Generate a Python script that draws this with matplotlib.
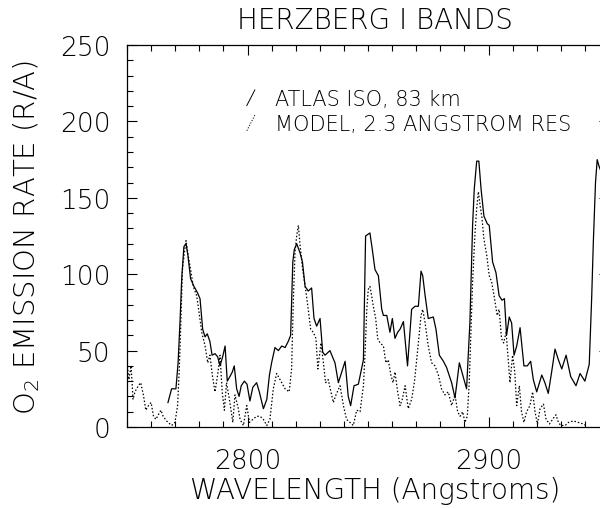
import matplotlib
matplotlib.use("Agg")
from matplotlib import pyplot as plt
from matplotlib.legend_handler import HandlerBase
from matplotlib.lines import Line2D
from matplotlib.ticker import MultipleLocator

# ATLAS ISO spectrum, 83 km (solid)
atlas_wl = [
    2767.0, 2768.5, 2770.3, 2771.2, 2772.0, 2772.7, 2773.6, 2774.5, 2775.3, 2776.4,
    2777.8, 2779.2, 2780.3, 2781.4, 2782.4, 2783.3, 2784.4, 2785.3, 2786.5, 2787.6,
    2788.6, 2789.7, 2790.7, 2791.6, 2792.7, 2793.7, 2794.5, 2795.5, 2796.5, 2797.4,
    2798.7, 2799.8, 2801.0, 2802.2, 2803.8, 2804.9, 2806.6, 2808.0, 2809.1, 2810.0,
    2811.4, 2812.8, 2814.2, 2815.6, 2816.9, 2817.9, 2818.8, 2819.4, 2820.4, 2821.8,
    2822.8, 2823.9, 2825.2, 2826.6, 2827.6, 2828.7, 2830.1, 2831.2, 2832.2, 2834.2,
    2836.3, 2837.7, 2839.1, 2840.5, 2841.8, 2842.8, 2844.2, 2846.0, 2848.1, 2849.0,
    2850.8, 2851.8, 2852.9, 2854.3, 2855.7, 2856.4, 2857.8, 2859.1, 2860.1, 2861.2,
    2862.3, 2863.3, 2864.7, 2866.4, 2868.1, 2869.5, 2870.9, 2872.0, 2872.7, 2873.7,
    2875.0, 2877.1, 2878.2, 2879.6, 2881.3, 2882.6, 2884.7, 2886.1, 2887.9, 2889.3,
    2890.9, 2892.3, 2893.4, 2894.1, 2895.1, 2896.0, 2896.9, 2898.1, 2899.5, 2900.3,
    2901.7, 2903.1, 2904.4, 2905.6, 2906.6, 2907.5, 2908.6, 2909.6, 2910.6, 2911.7,
    2913.1, 2914.7, 2916.1, 2917.5, 2918.6, 2920.0, 2922.1, 2923.4, 2924.8, 2926.2,
    2927.6, 2929.0, 2930.4, 2932.2, 2934.1, 2936.3, 2938.0, 2940.0, 2941.8, 2942.8,
    2943.5, 2944.4, 2945.1, 2945.8, 2946.5,
]
atlas_rate = [
    16, 25, 25, 42, 69, 97, 118, 120, 112, 97,
    92, 88, 84, 64, 59, 61, 56, 47, 48, 46,
    40, 46, 53, 30, 33, 36, 40, 25, 20, 27,
    30, 28, 17, 26, 29, 23, 12, 18, 34, 42,
    52, 50, 53, 52, 56, 60, 108, 116, 120, 114,
    108, 92, 89, 91, 71, 66, 71, 49, 47, 50,
    42, 29, 36, 43, 20, 14, 27, 28, 44, 125,
    127, 116, 103, 99, 77, 73, 73, 62, 71, 58,
    62, 64, 69, 40, 77, 79, 79, 102, 99, 86,
    71, 72, 64, 47, 43, 39, 29, 19, 42, 34,
    25, 69, 132, 156, 174, 174, 156, 138, 133, 132,
    108, 101, 86, 83, 84, 60, 72, 68, 47, 53,
    65, 40, 40, 43, 31, 23, 34, 29, 22, 36,
    51, 44, 38, 47, 33, 27, 35, 30, 41, 84,
    121, 160, 175, 171, 168,
]

# model spectrum, 2.3 Angstrom resolution (dotted)
model_wl = [
    2750.0, 2750.8, 2751.7, 2752.5, 2753.3, 2754.7, 2755.7, 2756.8, 2757.8, 2758.9,
    2760.0, 2761.0, 2762.0, 2763.0, 2764.1, 2765.0, 2766.4, 2768.5, 2769.9, 2771.0,
    2771.7, 2772.4, 2773.0, 2773.8, 2774.5, 2775.4, 2776.4, 2777.5, 2778.9, 2779.9,
    2781.0, 2782.4, 2783.5, 2784.4, 2785.4, 2786.5, 2787.6, 2788.6, 2789.5, 2790.4,
    2791.3, 2792.5, 2793.9, 2794.8, 2796.2, 2796.9, 2798.3, 2799.7, 2800.8, 2802.2,
    2803.8, 2805.2, 2806.6, 2808.0, 2809.3, 2810.7, 2812.1, 2813.5, 2815.6, 2817.3,
    2818.3, 2819.0, 2819.7, 2820.4, 2821.1, 2821.8, 2822.9, 2824.3, 2825.2, 2826.2,
    2827.3, 2828.4, 2829.2, 2830.5, 2831.5, 2832.4, 2833.5, 2834.6, 2835.6, 2836.7,
    2838.4, 2839.8, 2841.1, 2842.5, 2843.9, 2845.3, 2846.7, 2848.1, 2848.8, 2849.5,
    2850.1, 2850.8, 2851.5, 2852.2, 2853.2, 2854.0, 2855.0, 2856.4, 2857.4, 2858.4,
    2859.5, 2860.4, 2861.2, 2862.3, 2863.3, 2864.2, 2865.4, 2866.7, 2868.1, 2869.3,
    2870.9, 2872.0, 2872.7, 2873.7, 2875.0, 2876.4, 2877.8, 2879.2, 2880.5, 2881.9,
    2883.3, 2884.7, 2886.1, 2887.2, 2888.2, 2889.3, 2890.2, 2891.2, 2892.0, 2892.7,
    2893.4, 2894.4, 2895.1, 2895.8, 2896.5, 2897.2, 2898.1, 2899.3, 2900.3, 2901.3,
    2902.3, 2903.6, 2904.4, 2905.4, 2906.3, 2907.3, 2908.2, 2908.9, 2910.0, 2910.9,
    2911.7, 2912.8, 2913.7, 2914.7, 2915.8, 2917.2, 2918.3, 2919.3, 2920.3, 2921.4,
    2922.8, 2923.9, 2925.3, 2926.6, 2928.0, 2929.0, 2930.0, 2931.8, 2933.2, 2935.2,
    2937.3, 2939.3, 2940.5,
]
model_rate = [
    42, 31, 40, 18, 23, 27, 29, 21, 11, 14,
    16, 7, 5, 8, 11, 7, 4, 1, 3, 14,
    38, 71, 103, 114, 122, 112, 103, 92, 86, 75,
    62, 53, 42, 47, 34, 23, 34, 47, 23, 11,
    29, 18, 3, 21, 12, 5, 1, 14, 3, 5,
    7, 7, 5, 1, 5, 25, 35, 31, 25, 23,
    38, 82, 114, 125, 132, 119, 103, 88, 77, 64,
    62, 58, 38, 55, 42, 29, 31, 23, 16, 21,
    27, 14, 5, 3, 1, 11, 10, 27, 49, 77,
    90, 92, 86, 79, 71, 58, 55, 53, 42, 44,
    34, 29, 36, 23, 14, 18, 27, 12, 18, 30,
    55, 73, 77, 68, 53, 42, 40, 34, 25, 21,
    23, 14, 21, 10, 7, 10, 3, 7, 29, 62,
    95, 127, 143, 154, 145, 138, 123, 112, 99, 95,
    86, 73, 77, 58, 55, 62, 44, 29, 47, 36,
    14, 27, 10, 3, 10, 14, 23, 10, 2, 12,
    15, 5, 2, 5, 8, 3, 1, 1, 3, 4,
    3, 2, 1,
]

labels = ["ATLAS ISO, 83 km", "MODEL, 2.3 ANGSTROM RES"]

FONT = {"family": ["DejaVu Sans"], "weight": "light"}


class SlashHandler(HandlerBase):
    # legend key drawn as a short slanted stroke, like the IDL plot
    def create_artists(self, legend, orig_handle, xdescent, ydescent,
                       width, height, fontsize, trans):
        x0, y0 = -xdescent, -ydescent
        line = Line2D([x0 + 0.15 * width, x0 + 0.85 * width],
                      [y0 + 0.05 * height, y0 + 0.95 * height])
        line.update_from(orig_handle)
        line.set_linewidth(0.7)
        line.set_transform(trans)
        return [line]


plt.rcParams["mathtext.default"] = "regular"

fig = plt.figure(figsize=(6.0, 5.1), dpi=100)
ax = fig.add_axes([127 / 600, 82 / 510, 482 / 600, 382 / 510])

solid, = ax.plot(atlas_wl, atlas_rate, color="black", linewidth=0.9)
dotted, = ax.plot(model_wl, model_rate, color="black", linewidth=0.9,
                  linestyle=(0, (1.2, 1.6)))

ax.set_xlim(2750, 2950)
ax.set_ylim(0, 250)
ax.xaxis.set_major_locator(MultipleLocator(100))
ax.xaxis.set_minor_locator(MultipleLocator(10))
ax.yaxis.set_major_locator(MultipleLocator(50))
ax.yaxis.set_minor_locator(MultipleLocator(10))
ax.tick_params(which="both", direction="in", top=True, right=True,
               width=0.8, color="black")
ax.tick_params(which="major", length=7.5)
ax.tick_params(which="minor", length=4)
ax.tick_params(axis="x", which="major", pad=15)
ax.tick_params(axis="y", which="major", pad=12)
for lab in ax.get_xticklabels() + ax.get_yticklabels():
    lab.set_fontsize(19)
    lab.set_fontfamily(FONT["family"])
    lab.set_fontweight(FONT["weight"])
for sp in ax.spines.values():
    sp.set_linewidth(0.9)

ax.set_title("HERZBERG I BANDS", fontsize=20, pad=12, **FONT)
ax.title.set_x(0.514)
ax.set_xlabel("WAVELENGTH (Angstroms)", fontsize=20, labelpad=2, **FONT)
ax.xaxis.label.set_x(0.514)
ax.set_ylabel("O$_2$ EMISSION RATE (R/A)", fontsize=21, labelpad=13, **FONT)

ax.legend([solid, dotted], labels, handler_map={Line2D: SlashHandler()},
          loc="upper left", bbox_to_anchor=(0.245, 0.885), frameon=False,
          handlelength=0.55, handleheight=0.9, handletextpad=0.9,
          labelspacing=0.25, borderpad=0, borderaxespad=0,
          prop={"family": FONT["family"], "weight": FONT["weight"], "size": 15})

fig.savefig("out.png", dpi=100)
